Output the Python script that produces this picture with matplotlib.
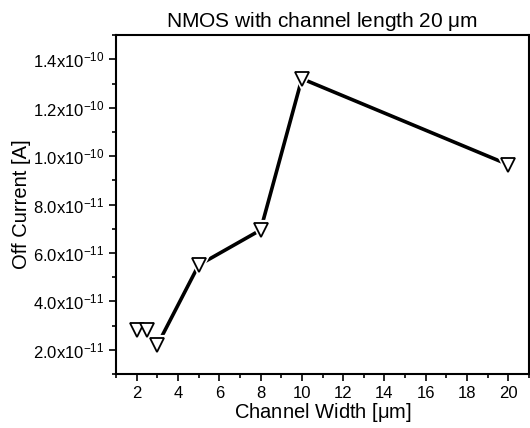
import numpy as np
import matplotlib.pyplot as plt
from matplotlib.ticker import MultipleLocator, FuncFormatter

plt.rcParams['font.family'] = ['Liberation Sans', 'DejaVu Sans']
plt.rcParams['mathtext.default'] = 'regular'

# Data
channel_width = [2, 2.5, 3, 5, 8, 10, 20]
off_current = [2.8e-11, 2.8e-11, 2.2e-11, 5.5e-11, 6.95e-11, 1.32e-10, 9.65e-11]
# the first two points are not joined by the line
first_joined = 2


def sci_label(v, pos):
	if v == 0:
		return '0'
	exp = int(np.floor(np.log10(abs(v))))
	mant = v / 10**exp
	return r'%.1fx10$^{%d}$' % (mant, exp)


fig = plt.figure(figsize=(5.30, 4.28), dpi=100)
ax = fig.add_axes([0.219, 0.126, 0.779, 0.792])

# Line, with a white halo under the markers to leave a small gap
ax.plot(channel_width[first_joined:], off_current[first_joined:], color='black', lw=2.6,
	solid_capstyle='butt', zorder=2)
ax.plot(channel_width, off_current, linestyle='none', marker='v', markersize=11,
	markerfacecolor='white', markeredgecolor='white', markeredgewidth=3, zorder=3)
ax.plot(channel_width, off_current, linestyle='none', marker='v', markersize=10,
	markerfacecolor='white', markeredgecolor='black', markeredgewidth=1.3, zorder=4)

ax.set_xlim(1, 21)
ax.set_ylim(1e-11, 1.5e-10)
ax.xaxis.set_major_locator(MultipleLocator(2))
ax.xaxis.set_minor_locator(MultipleLocator(1))
ax.yaxis.set_major_locator(MultipleLocator(2e-11))
ax.yaxis.set_minor_locator(MultipleLocator(1e-11))
ax.yaxis.set_major_formatter(FuncFormatter(sci_label))

for s in ax.spines.values():
	s.set_linewidth(1.5)
ax.tick_params(which='both', direction='out', width=1.2, labelsize=12, top=False, right=False)
ax.tick_params(which='major', length=5)
ax.tick_params(which='minor', length=3)

ax.set_xlabel(r'Channel Width [$\mu$m]', fontsize=14.5, labelpad=0)
ax.set_ylabel('Off Current [A]', fontsize=14.5, labelpad=1)
ax.set_title(r'NMOS with channel length 20 $\mu$m', fontsize=15, pad=6)

plt.savefig('out.png', dpi=100)
